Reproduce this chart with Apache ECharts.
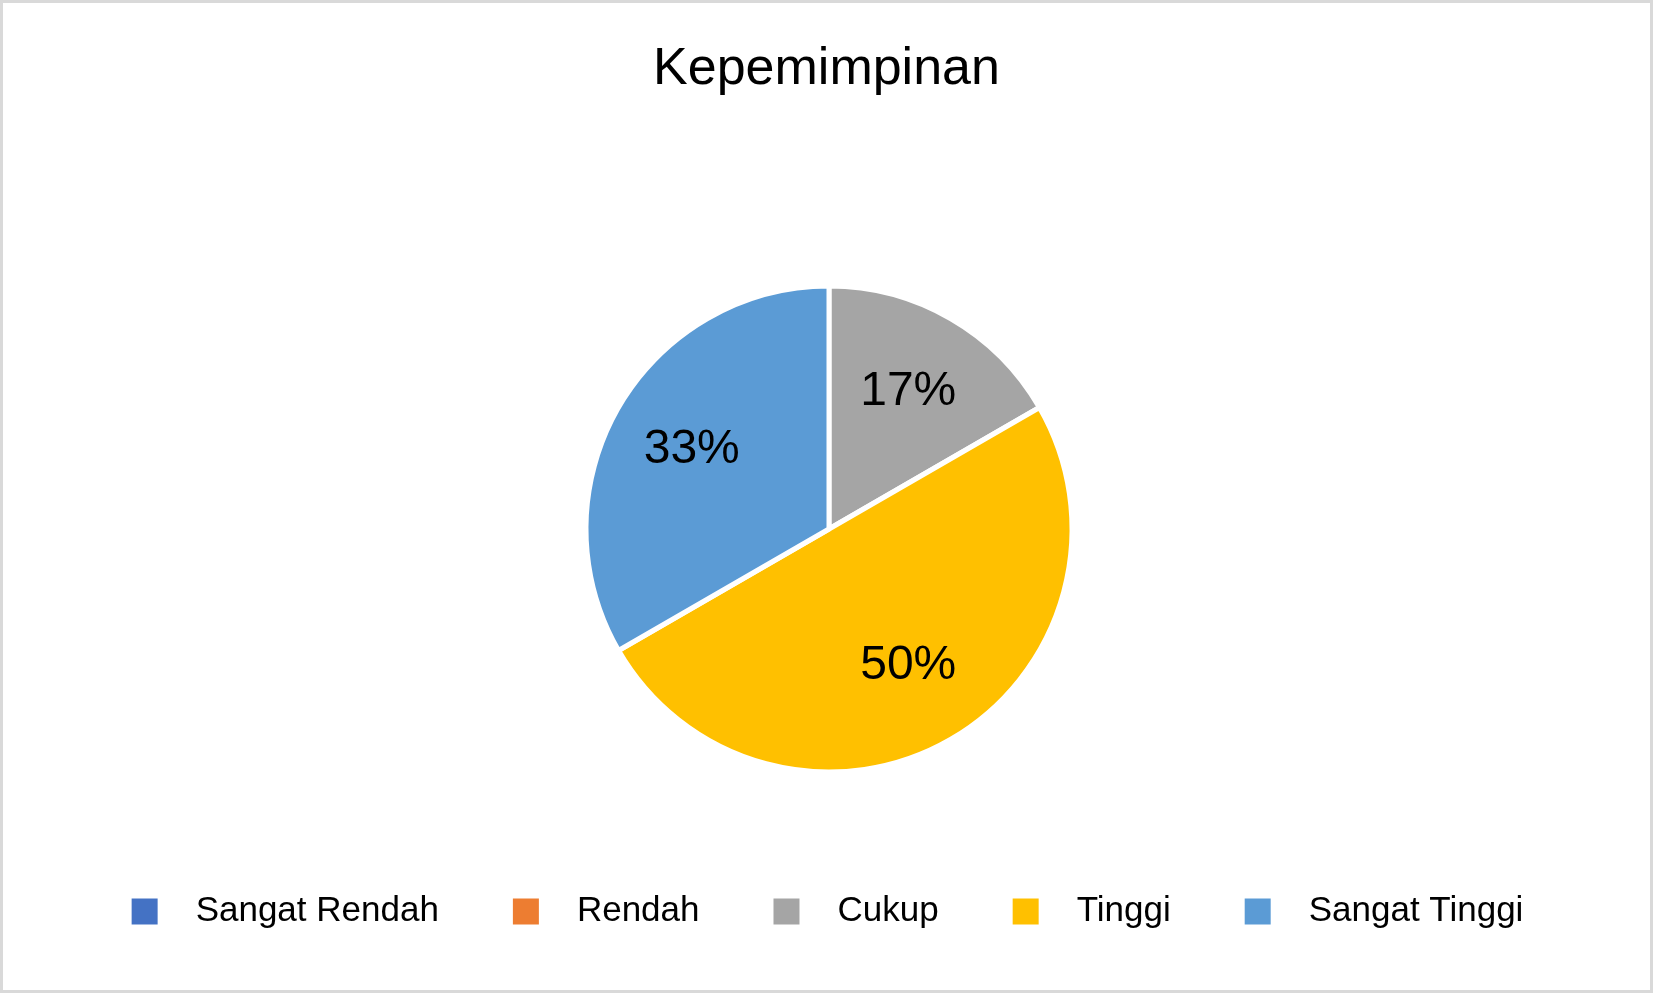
<!DOCTYPE html>
<html><head><meta charset="utf-8">
<script src="https://cdn.jsdelivr.net/npm/echarts@6/dist/echarts.min.js"></script>
<style>html,body{margin:0;padding:0;background:#fff}#c{width:1653px;height:993px;box-sizing:border-box;border:3px solid #d9d9d9}</style>
</head><body><div id="c"></div>
<script>
const categories=['Sangat Rendah','Rendah','Cukup','Tinggi','Sangat Tinggi'];
const values=[0,0,1,3,2];
const colors=['#4472c4','#ed7d31','#a5a5a5','#ffc000','#5b9bd5'];
const chart=echarts.init(document.getElementById('c'));
const data=categories.map((n,i)=>({name:n,value:values[i],itemStyle:{color:colors[i]}}));
chart.setOption({
 animation:false,
 title:{text:'Kepemimpinan',left:'center',top:36,textStyle:{fontFamily:'Liberation Sans',fontSize:52,fontWeight:'normal',color:'#000'}},
 legend:{bottom:56,left:'center',itemWidth:28,itemHeight:28,itemGap:72,icon:'rect',data:categories,
   textStyle:{fontFamily:'Liberation Sans',fontSize:35,color:'#000',padding:[0,0,0,32]}},
 series:[
  {type:'pie',radius:[0,243],center:[826,526],startAngle:90,clockwise:true,data:data,
   itemStyle:{borderColor:'#fff',borderWidth:5},label:{show:false},labelLine:{show:false},emphasis:{disabled:true},silent:true},
  {type:'pie',radius:[0,311],center:[826,526],startAngle:90,clockwise:true,
   data:categories.map((n,i)=>({name:n,value:values[i],itemStyle:{color:'rgba(0,0,0,0)'}})),
   label:{show:true,position:'inside',formatter:p=>p.value>0?Math.round(p.percent)+'%':'',fontFamily:'Liberation Sans',fontSize:48,color:'#000'},
   labelLine:{show:false},emphasis:{disabled:true},silent:true,legendHoverLink:false}
 ]
});
</script></body></html>
